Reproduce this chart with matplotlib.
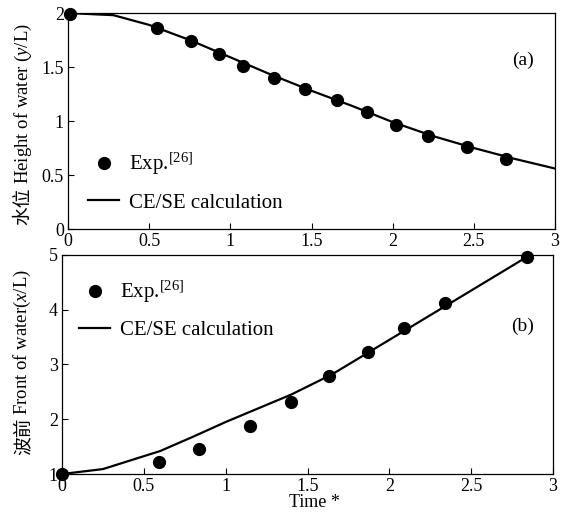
import matplotlib
matplotlib.use('Agg')
import matplotlib.pyplot as plt

plt.rcParams['font.family'] = ['Liberation Serif', 'Noto Sans CJK SC']
plt.rcParams['mathtext.fontset'] = 'custom'
plt.rcParams['mathtext.rm'] = 'Liberation Serif'
plt.rcParams['mathtext.it'] = 'Liberation Serif:italic'

# shared time axis
time_ticks = [0, 0.5, 1, 1.5, 2, 2.5, 3]
time_labels = ['0', '0.5', '1', '1.5', '2', '2.5', '3']

# (a) height of water
exp_t_a = [0.01, 0.55, 0.76, 0.93, 1.08, 1.27, 1.46, 1.66, 1.84, 2.02, 2.22, 2.46, 2.70]
exp_y_a = [1.99, 1.86, 1.74, 1.62, 1.51, 1.40, 1.30, 1.19, 1.08, 0.96, 0.86, 0.76, 0.65]
calc_t_a = [0, 0.28, 0.5, 0.75, 1.0, 1.25, 1.5, 1.75, 2.0, 2.25, 2.5, 2.75, 3.0]
calc_y_a = [2.0, 1.98, 1.89, 1.75, 1.59, 1.43, 1.28, 1.14, 0.99, 0.86, 0.75, 0.65, 0.56]
yticks_a = [0, 0.5, 1, 1.5, 2]
ylabels_a = ['0', '0.5', '1', '1.5', '2']

# (b) front of water
exp_t_b = [0.0, 0.595, 0.84, 1.15, 1.40, 1.63, 1.87, 2.09, 2.34, 2.84]
exp_y_b = [1.0, 1.22, 1.46, 1.88, 2.32, 2.79, 3.23, 3.67, 4.12, 4.97]
calc_t_b = [0, 0.25, 0.6, 0.8, 1.0, 1.2, 1.4, 1.65, 2.0, 2.5, 2.86]
calc_y_b = [1.0, 1.09, 1.42, 1.68, 1.95, 2.2, 2.45, 2.82, 3.45, 4.35, 5.0]
yticks_b = [1, 2, 3, 4, 5]
ylabels_b = ['1', '2', '3', '4', '5']


def style_axis(ax, yticks, ylabels, ylim):
    ax.set_xlim(0, 3)
    ax.set_ylim(*ylim)
    ax.set_xticks(time_ticks)
    ax.set_xticklabels(time_labels)
    ax.set_yticks(yticks)
    ax.set_yticklabels(ylabels)
    ax.tick_params(direction='in', length=4, width=0.8, labelsize=13, pad=3)
    for s in ax.spines.values():
        s.set_linewidth(0.9)


# CJK part and latin part drawn as two rotated texts, stacked
def two_part_ylabel(ax, cjk, rest, x0, y0):
    t1 = ax.text(x0, y0, cjk, rotation=90, transform=ax.transAxes,
                 ha='center', va='bottom', fontsize=13.5, family='Noto Sans CJK SC')
    ax.annotate(rest, xy=(0.5, 1), xycoords=t1, xytext=(0, 2), textcoords='offset points',
                ha='center', va='bottom', rotation=90, fontsize=13.5)


fig = plt.figure(figsize=(5.72, 5.13), dpi=100)
ax1 = fig.add_axes([0.1189, 0.5536, 0.8514, 0.421])
ax2 = fig.add_axes([0.1084, 0.076, 0.8584, 0.427])

ax1.plot(exp_t_a, exp_y_a, 'o', color='black', ms=8.5, clip_on=False, label='Exp.$^{[26]}$')
ax1.plot(calc_t_a, calc_y_a, '-', color='black', lw=1.6, label='CE/SE calculation')
style_axis(ax1, yticks_a, ylabels_a, (0, 2))
ax1.legend(loc='upper left', bbox_to_anchor=(0.041, 0.36), frameon=False, fontsize=15,
           handlelength=1.5, handletextpad=0.45, labelspacing=0.75, borderpad=0, borderaxespad=0)
ax1.text(0.934, 0.782, '(a)', transform=ax1.transAxes, ha='center', va='center', fontsize=14)
two_part_ylabel(ax1, '水位', 'Height of water ($y$/L)', -0.092, 0.02)

ax2.plot(exp_t_b, exp_y_b, 'o', color='black', ms=8.5, clip_on=False, label='Exp.$^{[26]}$')
ax2.plot(calc_t_b, calc_y_b, '-', color='black', lw=1.6, label='CE/SE calculation')
style_axis(ax2, yticks_b, ylabels_b, (1, 5))
ax2.legend(loc='upper left', bbox_to_anchor=(0.035, 0.89), frameon=False, fontsize=15,
           handlelength=1.5, handletextpad=0.45, labelspacing=0.75, borderpad=0, borderaxespad=0)
ax2.text(0.939, 0.676, '(b)', transform=ax2.transAxes, ha='center', va='center', fontsize=14)
two_part_ylabel(ax2, '波前', 'Front of water($x$/L)', -0.08, 0.085)
ax2.set_xlabel('Time *', fontsize=13)
ax2.xaxis.set_label_coords(0.515, -0.092)

fig.savefig('out.png', dpi=100)
